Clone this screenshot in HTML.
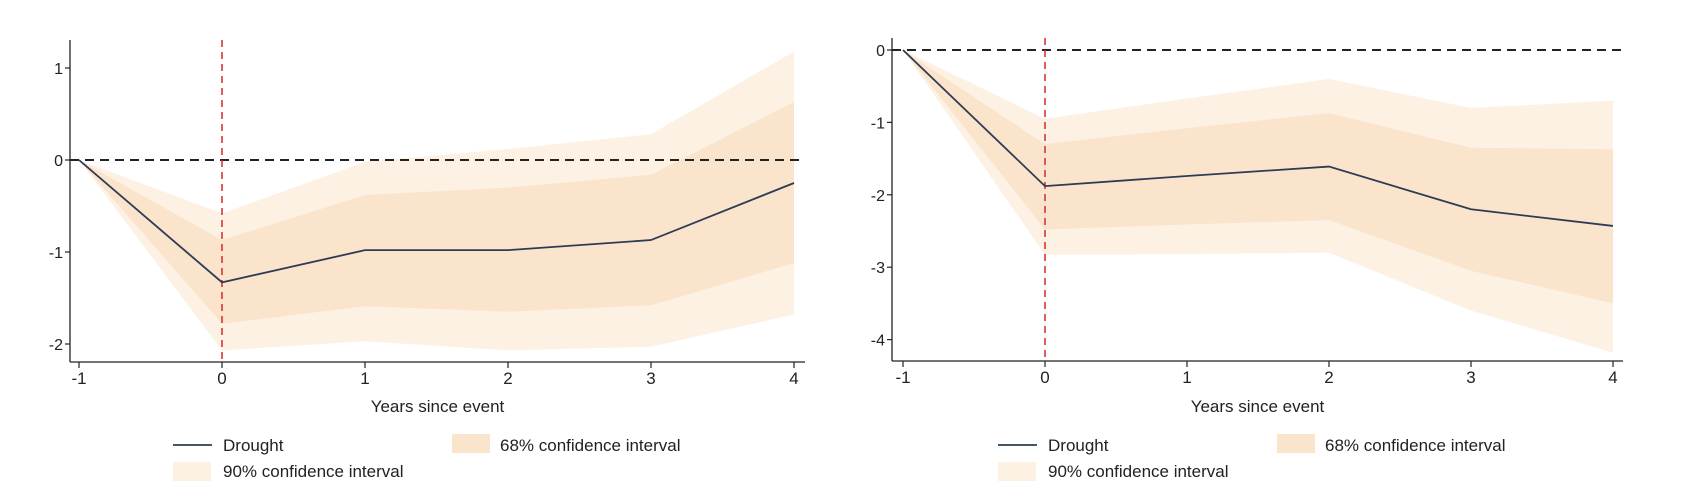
<!DOCTYPE html>
<html><head><meta charset="utf-8"><style>
body{margin:0;background:#fff;}
svg{display:block;font-family:"Liberation Sans",Arial,sans-serif;}
</style></head><body>
<svg id="c" width="1698" height="504" viewBox="0 0 1698 504"></svg>
<script>
const xCats=[-1,0,1,2,3,4];
const leftEst=[0,-1.33,-0.98,-0.98,-0.87,-0.25];
const left68Up=[0,-0.87,-0.38,-0.30,-0.16,0.63];
const left68Lo=[0,-1.78,-1.59,-1.65,-1.58,-1.12];
const left90Up=[0,-0.58,-0.02,0.12,0.28,1.18];
const left90Lo=[0,-2.07,-1.97,-2.07,-2.03,-1.68];
const leftYTicks=[1,0,-1,-2];
const rightEst=[0,-1.88,-1.74,-1.61,-2.20,-2.43];
const right68Up=[0,-1.30,-1.08,-0.87,-1.35,-1.37];
const right68Lo=[0,-2.48,-2.41,-2.35,-3.05,-3.50];
const right90Up=[0,-0.95,-0.67,-0.40,-0.80,-0.70];
const right90Lo=[0,-2.83,-2.82,-2.80,-3.60,-4.18];
const rightYTicks=[0,-1,-2,-3,-4];

const NS="http://www.w3.org/2000/svg";
const svg=document.getElementById('c');
function mk(tag,attrs,parent,text){const e=document.createElementNS(NS,tag);for(const k in attrs)e.setAttribute(k,attrs[k]);if(text!==undefined)e.textContent=text;(parent||svg).appendChild(e);return e;}

function panel(cfg){
  const g=mk('g',{});
  
  
  const sx=v=>cfg.x0+(v-(-1))*cfg.dx;
  const sy=v=>cfg.y0-v*cfg.dy;
  const band=(up,lo,fill,name)=>{
    let pts=xCats.map((c,i)=>sx(c)+','+sy(up[i]));
    pts=pts.concat(xCats.slice().reverse().map((c,j)=>{const i=xCats.length-1-j;return sx(c)+','+sy(lo[i]);}));
    const p=mk('polygon',{points:pts.join(' '),fill:fill},g);
    
    
  };
  band(cfg.u90,cfg.l90,'#fdf1e4','ci-90-band');
  band(cfg.u68,cfg.l68,'#fbe4cc','ci-68-band');
  const z=mk('line',{x1:cfg.axL,x2:cfg.zeroEnd,y1:sy(0),y2:sy(0),stroke:'#222','stroke-width':2,'stroke-dasharray':'9,6'},g);
  
  
  const r=mk('line',{x1:sx(0),x2:sx(0),y1:cfg.axTop,y2:cfg.axBot,stroke:'#d42a2a','stroke-width':1.5,'stroke-dasharray':'7,5'},g);
  
  
  const l=mk('polyline',{points:xCats.map((c,i)=>sx(c)+','+sy(cfg.est[i])).join(' '),fill:'none',stroke:'#2d3c55','stroke-width':1.8},g);
  
  
  const ya=mk('line',{x1:cfg.axL,x2:cfg.axL,y1:cfg.axTop,y2:cfg.axBot,stroke:'#222','stroke-width':1.3},g);
  
  
  const xa=mk('line',{x1:cfg.axL,x2:cfg.axR,y1:cfg.axBot,y2:cfg.axBot,stroke:'#222','stroke-width':1.3},g);
  
  
  cfg.yt.forEach(v=>{
    mk('line',{x1:cfg.axL-5,x2:cfg.axL,y1:sy(v),y2:sy(v),stroke:'#222','stroke-width':1.2},g);
    const t=mk('text',{x:cfg.axL-7,y:sy(v)+6,'text-anchor':'end','font-size':16,fill:'#222'},g,String(v));
    
    
  });
  xCats.forEach(c=>{
    mk('line',{x1:sx(c),x2:sx(c),y1:cfg.axBot,y2:cfg.axBot+6,stroke:'#222','stroke-width':1.2},g);
    const t=mk('text',{x:sx(c),y:cfg.axBot+22,'text-anchor':'middle','font-size':17,fill:'#222'},g,String(c));
    
    
  });
  const xt=mk('text',{x:(cfg.axL+cfg.axR)/2,y:412,'text-anchor':'middle','font-size':17,fill:'#222'},g,'Years since event');
  
  
  const L=cfg.legX;
  const e1=mk('line',{x1:L,x2:L+39,y1:445,y2:445,stroke:'#2d3c55','stroke-width':1.8},g);
  
  
  const t1=mk('text',{x:L+50,y:451,'font-size':17,fill:'#222'},g,'Drought');
  
  
  const s2=mk('rect',{x:L+279,y:434,width:38,height:19,fill:'#fbe4cc'},g);
  
  
  const t2=mk('text',{x:L+327,y:451,'font-size':17,fill:'#222'},g,'68% confidence interval');
  
  
  const s3=mk('rect',{x:L,y:462,width:38,height:19,fill:'#fdf1e4'},g);
  
  
  const t3=mk('text',{x:L+50,y:477,'font-size':17,fill:'#222'},g,'90% confidence interval');
  
  
}
panel({name:'left-panel',x0:79,dx:143,y0:160,dy:92,axL:70,axR:805,axTop:40,axBot:362,zeroEnd:805,
  est:leftEst,u68:left68Up,l68:left68Lo,u90:left90Up,l90:left90Lo,yt:leftYTicks,legX:173});
panel({name:'right-panel',x0:903,dx:142,y0:50,dy:72.4,axL:892,axR:1623,axTop:38,axBot:361,zeroEnd:1625,
  est:rightEst,u68:right68Up,l68:right68Lo,u90:right90Up,l90:right90Lo,yt:rightYTicks,legX:998});
</script>
</body></html>
